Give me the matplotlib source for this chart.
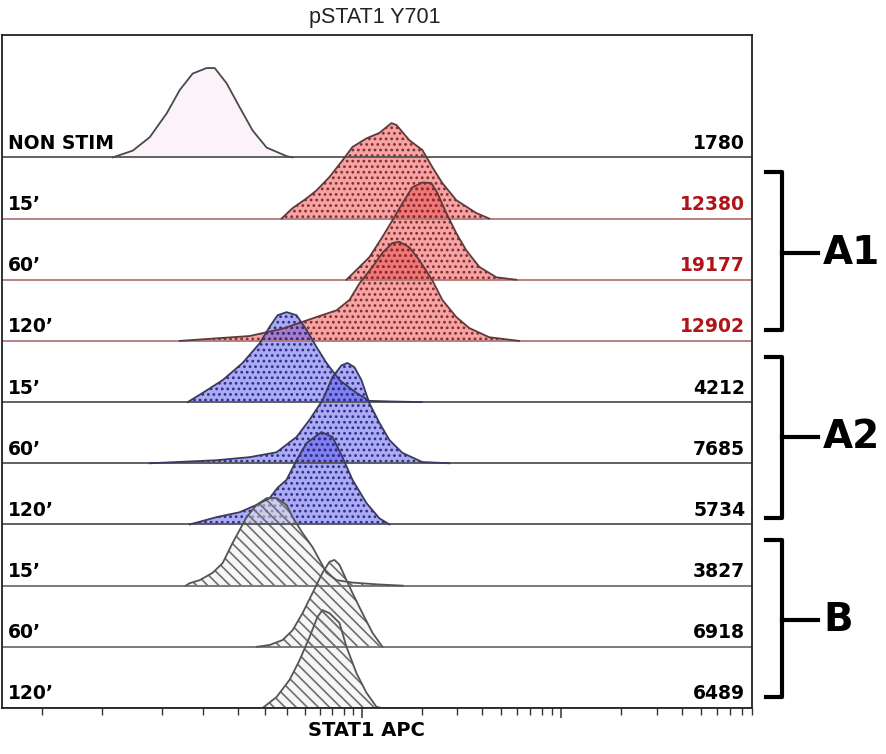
import matplotlib
matplotlib.use("Agg")
import matplotlib.pyplot as plt
import matplotlib.transforms as mtransforms
from matplotlib.ticker import FixedLocator, NullFormatter

# ========== DATA ==========
# rows from top to bottom
row_labels = ["NON STIM", "15\u2019", "60\u2019", "120\u2019",
              "15\u2019", "60\u2019", "120\u2019",
              "15\u2019", "60\u2019", "120\u2019"]
row_mfi = ["1780", "12380", "19177", "12902", "4212", "7685", "5734", "3827", "6918", "6489"]
row_group = ["ctrl", "A1", "A1", "A1", "A2", "A2", "A2", "B", "B", "B"]

# histogram outlines: STAT1 APC intensity, height in row units
nonstim_x = [-1188, -680, -277, 115, 417, 729, 1082, 1298, 1640, 2046, 2498, 3050, 3976, 4293]
nonstim_h = [0, 0.11, 0.33, 0.72, 1.10, 1.37, 1.46, 1.46, 1.21, 0.82, 0.44, 0.16, 0.02, 0]

a1_15_x = [3728, 4293, 5117, 5784, 6767, 7902, 8895, 10486, 12207, 14036, 14877, 17298,
           20106, 22566, 25330, 29776, 37500, 43557]
a1_15_h = [0, 0.17, 0.33, 0.46, 0.68, 0.95, 1.17, 1.31, 1.40, 1.56, 1.53, 1.28,
           1.12, 0.84, 0.58, 0.30, 0.09, 0]

a1_60_x = [8287, 9324, 10861, 12642, 14200, 15948, 17904, 20106, 22306, 23908, 26532,
           29776, 33410, 38817, 47220, 59440]
a1_60_h = [0, 0.16, 0.37, 0.70, 0.97, 1.25, 1.51, 1.59, 1.58, 1.42, 1.09,
           0.76, 0.48, 0.21, 0.04, 0]

a1_120_x = [417, 2390, 3774, 5784, 7358, 8586, 9660, 11252, 12642, 14200, 15403, 17298,
            19421, 22566, 25330, 29776, 34592, 43557, 61540]
a1_120_h = [0, 0.08, 0.20, 0.39, 0.50, 0.67, 0.94, 1.21, 1.44, 1.60, 1.62, 1.53,
            1.32, 0.99, 0.67, 0.39, 0.21, 0.06, 0]

a2_15_x = [607, 979, 1523, 2146, 2765, 3177, 3537, 3976, 4516, 5117, 5784, 6528, 7626,
           9324, 10861, 14000, 20000]
a2_15_h = [0, 0.15, 0.36, 0.64, 0.96, 1.23, 1.42, 1.47, 1.42, 1.18, 0.90, 0.64, 0.36,
           0.15, 0.02, 0.01, 0]

a2_60_x = [-277, 1352, 2390, 3490, 4516, 5309, 6221, 7016, 7809, 8382, 9107, 9889, 10861,
           12207, 13714, 15948, 20106, 27464]
a2_60_h = [0, 0.05, 0.10, 0.18, 0.43, 0.71, 1.03, 1.41, 1.60, 1.64, 1.57, 1.36, 0.98,
           0.66, 0.38, 0.17, 0.02, 0]

a2_120_x = [656, 1352, 2046, 2649, 3177, 3537, 3976, 4516, 5117, 6144, 7016, 7902, 8895,
            10486, 12207, 13714]
a2_120_h = [0, 0.12, 0.20, 0.32, 0.43, 0.60, 0.73, 1.05, 1.33, 1.51, 1.43, 1.10, 0.73,
            0.35, 0.10, 0]

b_15_x = [560, 656, 903, 1243, 1523, 1822, 2046, 2283, 2649, 3050, 3490, 3976, 4293, 4868,
          5508, 5999, 6528, 7358, 8895, 12000, 16000]
b_15_h = [0, 0.04, 0.09, 0.21, 0.37, 0.70, 0.91, 1.12, 1.32, 1.43, 1.43, 1.32, 1.12, 0.86,
          0.63, 0.42, 0.21, 0.09, 0.05, 0.02, 0]

b_60_x = [2649, 3177, 3774, 4293, 4868, 5508, 6221, 6767, 7184, 7626, 8287, 8895, 10000,
          11252, 12642]
b_60_h = [0, 0.03, 0.11, 0.27, 0.55, 0.88, 1.21, 1.39, 1.42, 1.34, 1.09, 0.88, 0.55,
          0.23, 0]

b_120_x = [2884, 3490, 4133, 4690, 5309, 5854, 6221, 6767, 7626, 8287, 9324, 10486, 11786, 12500]
b_120_h = [0, 0.18, 0.46, 0.78, 1.16, 1.49, 1.60, 1.55, 1.39, 1.00, 0.57, 0.25, 0.02, 0]

curves = [(nonstim_x, nonstim_h), (a1_15_x, a1_15_h), (a1_60_x, a1_60_h), (a1_120_x, a1_120_h),
          (a2_15_x, a2_15_h), (a2_60_x, a2_60_h), (a2_120_x, a2_120_h),
          (b_15_x, b_15_h), (b_60_x, b_60_h), (b_120_x, b_120_h)]

# ========== STYLES ==========
STYLES = {
    "ctrl": dict(face="#fbf2fa", alpha=1.0, hatch=None, hcol=None, edge="#4a4a4a", base="#555555", mfi="black"),
    "A1": dict(face="#eb4b4b", alpha=0.5, hatch="...", hcol="#8a2a2a", edge="#5e3a3a", base="#b07878", mfi="#b0141a"),
    "A2": dict(face="#5151eb", alpha=0.48, hatch="...", hcol="#2e2e8a", edge="#3a3a5e", base="#555555", mfi="black"),
    "B": dict(face="#efefef", alpha=0.5, hatch="\\\\\\", hcol="#6e6e6e", edge="#555555", base="#707070", mfi="black"),
}
plt.rcParams["hatch.linewidth"] = 1.2
LABEL_FONT = dict(family="DejaVu Sans", fontweight="bold", fontsize=13.5)

W, H = 886, 754
fig = plt.figure(figsize=(W / 100, H / 100), dpi=100)
ax = fig.add_axes([2 / W, 46 / H, 750 / W, 673 / H])
ax.set_xscale("asinh", linear_width=2000)
ax.set_xlim(-6144, 9e5)
ax.set_ylim(0, 11)

trans = mtransforms.blended_transform_factory(ax.transAxes, ax.transData)

for i, ((xs, hs), lab, mfi, grp) in enumerate(zip(curves, row_labels, row_mfi, row_group)):
    st = STYLES[grp]
    base = 9 - i
    top = [base + h for h in hs]
    ax.axhline(base, color=st["base"], lw=1.3)
    ax.fill_between(xs, base, top, facecolor=st["face"], alpha=st["alpha"], lw=0)
    if st["hatch"]:
        ax.fill_between(xs, base, top, facecolor="none", edgecolor=st["hcol"], hatch=st["hatch"], lw=0)
    ax.plot(xs, top, color=st["edge"], lw=1.3)
    ax.text(0.008, base + 0.14, lab, transform=trans, va="baseline", ha="left", **LABEL_FONT)
    ax.text(0.991, base + 0.14, mfi, transform=trans, va="baseline", ha="right",
            color=st["mfi"], **LABEL_FONT)

# biexponential-like axis ticks, no labels
major = [1e4, 1e5]
minor = [-3700, -1500, 0, 1000] + [k * 1e3 for k in range(2, 10)] + \
        [k * 1e4 for k in range(2, 10)] + [k * 1e5 for k in range(2, 10)]
ax.xaxis.set_major_locator(FixedLocator(major))
ax.xaxis.set_minor_locator(FixedLocator(minor))
ax.xaxis.set_major_formatter(NullFormatter())
ax.xaxis.set_minor_formatter(NullFormatter())
ax.tick_params(axis="x", which="major", length=7, width=1.1, color="#333333")
ax.tick_params(axis="x", which="minor", length=5, width=1.0, color="#333333")
ax.set_yticks([])
for sp in ax.spines.values():
    sp.set_linewidth(1.3)
    sp.set_color("#222222")

fig.text(375 / W, 1 - 17 / H, "pSTAT1 Y701", ha="center", va="center",
         fontsize=15.5, family="Liberation Sans", color="#222222")
fig.text(366 / W, 1 - 730 / H, "STAT1 APC", ha="center", va="center",
         fontsize=14, fontweight="bold", family="DejaVu Sans")

# ========== GROUP BRACKETS (figure pixel coords) ==========
ov = fig.add_axes([0, 0, 1, 1], facecolor="none")
ov.set_xlim(0, W)
ov.set_ylim(H, 0)
ov.axis("off")

brackets = [("A1", 172, 330, 253), ("A2", 357, 518, 437), ("B", 540, 697, 620)]
for name, y0, y1, ym in brackets:
    ov.plot([766, 782, 782, 766], [y0, y0, y1, y1], color="black", lw=3, solid_joinstyle="round")
    ov.plot([782, 818], [ym, ym], color="black", lw=3)
    ov.text(823, ym, name, ha="left", va="center", fontsize=28, fontweight="bold", family="DejaVu Sans")

fig.savefig("out.png", dpi=100)
